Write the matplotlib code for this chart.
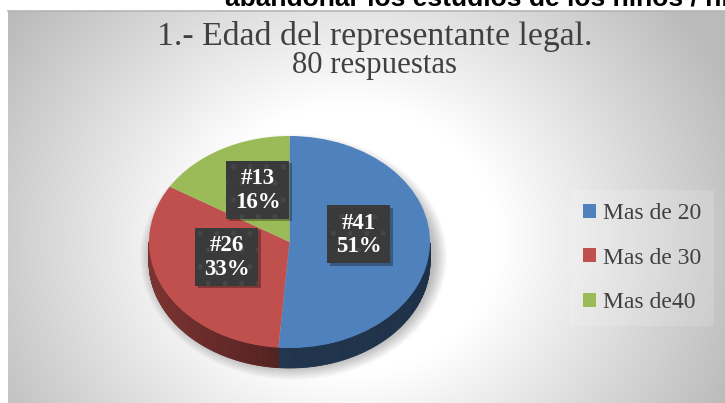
import numpy as np
import matplotlib
matplotlib.use('Agg')
import matplotlib.pyplot as plt
from matplotlib.patches import Polygon, Rectangle, Ellipse
import matplotlib.colors as mcolors

# ---- data ----
categories = ['Mas de 20', 'Mas de 30', 'Mas de40']
counts = [41, 26, 13]
colors = ['#4F81BD', '#C0504D', '#9BBB59']
title = '1.- Edad del representante legal.'
subtitle = '80 respuestas'
header = 'abandonar los estudios de los niños / niñas'

# ---- layout (pixels) ----
W, H = 725, 403
SERIF = ['Liberation Serif', 'DejaVu Serif']
TXT = '#404040'
fig = plt.figure(figsize=(W / 100, H / 100), dpi=100)

bg = fig.add_axes([0, 0, 1, 1])
bg.axis('off')
x0, x1, y0, y1 = 8, W, 11, H
gx = np.linspace(x0, x1, 400)
gy = np.linspace(y0, y1, 230)
XX, YY = np.meshgrid(gx, gy)
rr = np.hypot(XX - 350, (YY - 240) / 0.9)
v = 1 - 0.27 * np.clip((rr - 150) / 270, 0, 1)
bg.imshow(np.dstack([v, v, v]), extent=(x0, x1, y1, y0), aspect='auto',
          interpolation='bilinear', zorder=0)
bg.plot([x0, x1], [11, 11], color='#b5b5b5', lw=1.2, zorder=1)
bg.set_xlim(0, W)
bg.set_ylim(H, 0)

bg.text(225, 6, header, fontsize=19, fontweight='bold',
        family=['Liberation Sans', 'DejaVu Sans'], va='baseline', ha='left', color='black')
t1 = bg.text(375, 45, title, fontsize=22, family=SERIF, color=TXT, ha='center', va='baseline')
t2 = bg.text(374.5, 73, subtitle, fontsize=17, family=SERIF, color=TXT, ha='center', va='baseline')


def fit(t, width):
    fig.canvas.draw()
    bb = t.get_window_extent()
    t.set_fontsize(t.get_fontsize() * width / bb.width)


fit(t1, 434)
fit(t2, 165)

# ---- pie axes (ellipse by unequal scaling) ----
cx, cy, rx, ry, depth = 289.5, 242, 140.5, 106, 20
L, R, T, B = 100, 500, 110, 400
pa = fig.add_axes([L / W, 1 - B / H, (R - L) / W, (B - T) / H])
total = sum(counts)


def fmt(p):
    n = int(round(p * total / 100))
    return '#%d\n%d%%' % (n, int(p + 0.5))


wedges, texts, autotexts = pa.pie(counts, colors=colors, startangle=90, counterclock=False,
                                  autopct=fmt, pctdistance=0.5,
                                  wedgeprops=dict(linewidth=0, zorder=2))
pa.set_aspect('auto')
pa.set_xlim((L - cx) / rx, (R - cx) / rx)
pa.set_ylim((cy - B) / ry, (cy - T) / ry)
pa.axis('off')

d = depth / ry
# soft shadow
for i in range(14):
    e = i * 1.0
    pa.add_patch(Ellipse((4 / rx, -(d * 0.75)), 2 * (1 + e / rx), 2 * (1 + (e + 4) / ry),
                         fc='black', alpha=0.018, lw=0, zorder=0.5))

# side walls
start = 90.0
for val, col in zip(counts, colors):
    span = 360.0 * val / total
    a0, a1 = start - span, start
    start -= span
    ts = np.linspace(a0, a1, 240)
    base = np.array(mcolors.to_rgb(col))
    for ta, tb in zip(ts[:-1], ts[1:]):
        tm = np.radians((ta + tb) / 2)
        if np.sin(tm) >= 0:
            continue
        c = np.cos(tm)
        k = 0.41 + 0.24 * max(-c, 0) - 0.03 * max(c, 0)
        sc = tuple(base * k)
        ra, rb = np.radians(ta), np.radians(tb)
        poly = [(np.cos(ra), np.sin(ra)), (np.cos(rb), np.sin(rb)),
                (np.cos(rb), np.sin(rb) - d), (np.cos(ra), np.sin(ra) - d)]
        pa.add_patch(Polygon(poly, closed=True, fc=sc, ec=sc, lw=0.6, zorder=1))

# data labels in dark boxes
plt.rcParams['hatch.linewidth'] = 1.2
label_px = [(358.5, 235), (226.5, 257.5), (257.5, 190.5)]
bw, bh = 63, 58
for at, (px, py) in zip(autotexts, label_px):
    xd, yd = (px - cx) / rx, (cy - py) / ry
    at.set_position((xd, yd))
    at.set(color='white', fontsize=16.5, fontweight='bold', family=SERIF,
           ha='center', va='center', linespacing=1.15, zorder=5)
    bx, by = (px - cx) / rx, (cy - (py - 1)) / ry
    pa.add_patch(Rectangle((bx - bw / 2 / rx + 2.5 / rx, by - bh / 2 / ry - 2.5 / ry),
                           bw / rx, bh / ry, fc='black', alpha=0.3, lw=0, zorder=3))
    pa.add_patch(Rectangle((bx - bw / 2 / rx, by - bh / 2 / ry), bw / rx, bh / ry,
                           fc='#3a3a3a', ec='#474747', lw=0, hatch='.', zorder=4))

# legend
fs = 17
lg = fig.legend(wedges, categories, loc='upper left',
                bbox_to_anchor=(570 / W, 1 - 190 / H), frameon=True,
                prop=dict(family=SERIF, size=fs),
                handlelength=0.55, handleheight=0.55, handletextpad=0.3,
                labelspacing=1.0, borderpad=0.55, borderaxespad=0)
fr = lg.get_frame()
fr.set_facecolor('white')
fr.set_alpha(0.15)
fr.set_edgecolor('none')
fr.set_boxstyle('square', pad=0)
for t in lg.get_texts():
    t.set_color(TXT)

fig.savefig('out.png', dpi=100)
